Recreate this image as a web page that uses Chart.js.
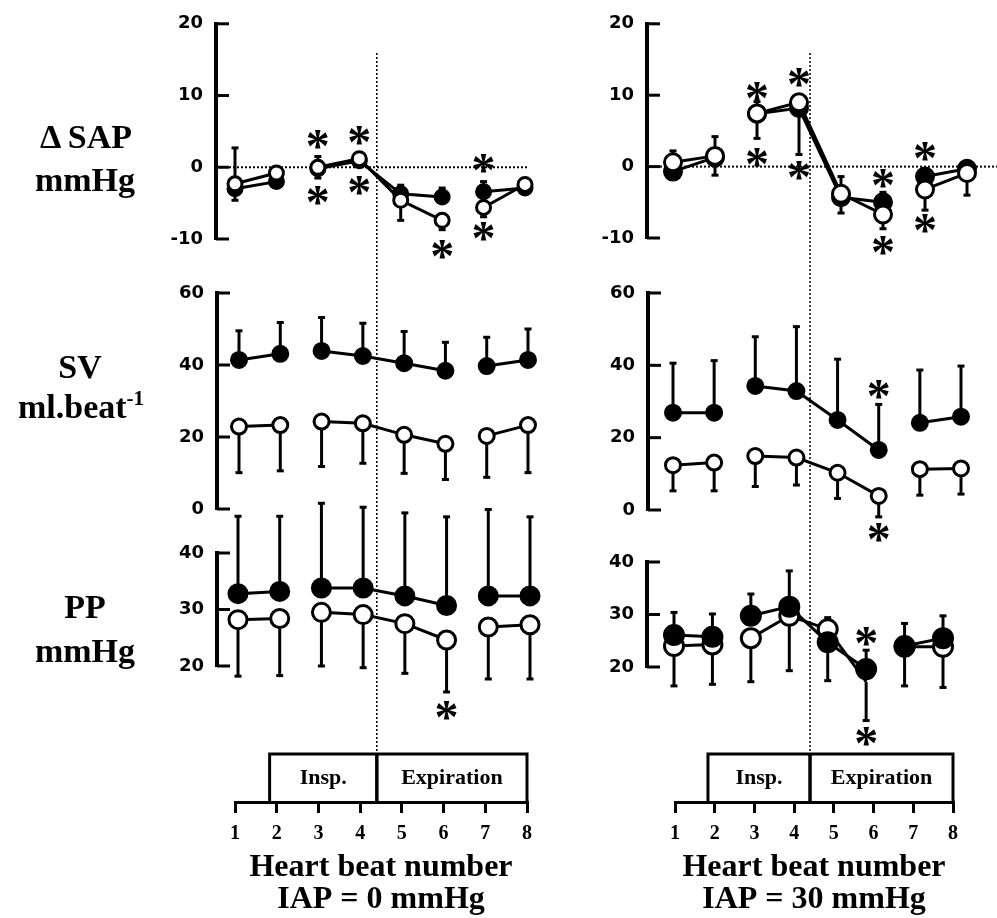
<!DOCTYPE html>
<html>
<head>
<meta charset="utf-8">
<script src="https://cdn.jsdelivr.net/npm/chart.js@4.4.1/dist/chart.umd.min.js"></script>
<style>
html,body{margin:0;padding:0;background:#fff;}
#wrap{position:relative;width:997px;height:918px;overflow:hidden;background:#fff;}
#wrap canvas{position:absolute;left:0;top:0;}
.lab{position:absolute;width:170px;text-align:center;font-family:"Liberation Serif","Times New Roman",serif;font-weight:bold;font-size:34px;line-height:43px;color:#000;white-space:nowrap;}
.lab sup{font-size:21px;line-height:0;vertical-align:13px;}
</style>
</head>
<body>
<div id="wrap">
<canvas id="pTL" width="997" height="918"></canvas>
<canvas id="pTR" width="997" height="918"></canvas>
<canvas id="pML" width="997" height="918"></canvas>
<canvas id="pMR" width="997" height="918"></canvas>
<canvas id="pBL" width="997" height="918"></canvas>
<canvas id="pBR" width="997" height="918"></canvas>
<canvas id="axL" width="997" height="918"></canvas>
<canvas id="axR" width="997" height="918"></canvas>
<div class="lab" style="left:1px;top:115px">Δ SAP</div>
<div class="lab" style="left:0px;top:158px">mmHg</div>
<div class="lab" style="left:-5px;top:345px">SV</div>
<div class="lab" style="left:-4px;top:385px">ml.beat<sup>-1</sup></div>
<div class="lab" style="left:0px;top:585px">PP</div>
<div class="lab" style="left:0px;top:629px">mmHg</div>
</div>
<script>
// ---------------- DATA ----------------
const beats = [1, 2, 3, 4, 5, 6, 7, 8];
const tickLabels = ['1', '2', '3', '4', '5', '6', '7', '8'];
const phaseBounds = [1.83, 4.4, 8];
const phaseNames = ['Insp.', 'Expiration'];
const lineBreaksAfter = [2, 6];
const xTitles0 = ['Heart beat number', 'IAP = 0 mmHg'];
const xTitles30 = ['Heart beat number', 'IAP = 30 mmHg'];

// Delta SAP (mmHg), IAP = 0
const sapFilled0   = [-3.0, -2.0, -0.2, 0.9, -3.7, -4.15, -3.4, -2.9];
const sapFilledSD0 = [5.7, 1.0, 1.7, 0.8, 1.2, 1.25, 1.4, 0.8];
const sapOpen0     = [-2.3, -0.8, 0.0, 1.2, -4.6, -7.4, -5.6, -2.4];
const sapOpenSD0   = [2.3, 1.0, 1.5, 0.8, 2.8, 1.3, 1.3, 0.8];
const sapStars0    = [[3, 3.7], [3, -4.1], [4, 4.3], [4, -2.7], [6, -11.6], [7, 0.4], [7, -9.1]];

// Delta SAP (mmHg), IAP = 30
const sapFilled30   = [-0.7, 1.3, 7.4, 8.2, -4.3, -5.0, -1.4, -0.3];
const sapFilledSD30 = [2.9, 2.9, 1.7, 1.5, 2.9, 1.4, 1.1, 0.8];
const sapOpen30     = [0.6, 1.5, 7.45, 9.0, -3.8, -6.7, -3.2, -0.9];
const sapOpenSD30   = [1.0, 2.7, 3.5, 7.3, 2.7, 2.0, 2.9, 3.1];
const sapStars30    = [[3, 10.4], [3, 1.1], [4, 12.4], [4, -0.7], [6, -1.8], [6, -11.2], [7, 2.0], [7, -8.1]];

// SV (ml/beat), IAP = 0
const svFilled0   = [41.4, 43.1, 43.9, 42.5, 40.5, 38.4, 39.7, 41.4];
const svFilledSD0 = [8.1, 8.7, 9.3, 9.1, 8.8, 7.9, 8.0, 8.6];
const svOpen0     = [22.9, 23.3, 24.3, 23.8, 20.6, 18.1, 20.3, 23.3];
const svOpenSD0   = [12.8, 12.7, 12.5, 11.1, 10.7, 9.9, 11.5, 13.2];
const svStars0    = [];

// SV (ml/beat), IAP = 30
const svFilled30   = [26.9, 26.9, 34.3, 32.9, 24.9, 16.6, 24.1, 25.8];
const svFilledSD30 = [13.7, 14.4, 13.6, 17.8, 16.8, 12.6, 14.6, 14.0];
const svOpen30     = [12.4, 13.1, 14.9, 14.5, 10.3, 3.9, 11.3, 11.5];
const svOpenSD30   = [7.1, 7.8, 8.4, 7.6, 7.1, 5.8, 7.2, 7.1];
const svStars30    = [[6, 33.2], [6, -6.4]];

// PP (mmHg), IAP = 0
const ppFilled0   = [32.8, 33.2, 33.8, 33.8, 32.4, 30.7, 32.4, 32.4];
const ppFilledSD0 = [13.7, 13.3, 15.0, 14.3, 14.7, 15.7, 15.3, 14.0];
const ppOpen0     = [28.2, 28.4, 29.5, 29.1, 27.5, 24.6, 26.9, 27.3];
const ppOpenSD0   = [10.0, 10.1, 9.5, 9.4, 8.8, 9.2, 9.2, 9.6];
const ppStars0    = [[6, 12.0]];

// PP (mmHg), IAP = 30
const ppFilled30   = [26.1, 25.75, 29.75, 31.5, 24.7, 19.6, 24.0, 25.5];
const ppFilledSD30 = [4.3, 4.35, 4.15, 6.8, 4.7, 3.6, 4.3, 4.25];
const ppOpen30     = [24.0, 24.3, 25.5, 29.75, 27.2, 17.2, 23.85, 23.85];
const ppOpenSD30   = [7.6, 7.6, 8.3, 10.45, 9.8, 7.4, 7.45, 7.75];
const ppStars30    = [[6, 25.6], [6, 6.6]];

// ---------------- RENDERING ----------------
const W = 997, H = 918;
const Y_AXIS_W = 60;
const SERIF = '"Liberation Serif", "Times New Roman", serif';
const SANS = '"DejaVu Sans", sans-serif';
const TICK_IN = 13;
const STAR_SIZE = 48;

function decoPlugin(key, stars, zeroLine) {
  return {
    id: 'deco' + key,
    beforeDatasetsDraw(chart) {
      const ctx = chart.ctx, xs = chart.scales.x, ys = chart.scales.y;
      ctx.save();
      ctx.strokeStyle = '#000';
      if (zeroLine) {
        const y0 = ys.getPixelForValue(0);
        ctx.setLineDash([2, 2]);
        ctx.lineWidth = 2;
        ctx.beginPath();
        ctx.moveTo(ys.right + TICK_IN, y0);
        ctx.lineTo(chart.chartArea.right, y0);
        ctx.stroke();
        ctx.setLineDash([]);
      }
      ctx.lineWidth = 3;
      ys.ticks.forEach(t => {
        const y = ys.getPixelForValue(t.value);
        ctx.beginPath();
        ctx.moveTo(ys.right, y);
        ctx.lineTo(ys.right + TICK_IN, y);
        ctx.stroke();
      });
      chart.data.datasets.forEach(ds => {
        ds.errors.forEach((e, j) => {
          const v = ds.data[j].y;
          const x = xs.getPixelForValue(ds.data[j].x);
          const y1 = ys.getPixelForValue(v);
          const y2 = ys.getPixelForValue(v + ds.errDir * e);
          ctx.lineWidth = 3;
          ctx.beginPath(); ctx.moveTo(x, y1); ctx.lineTo(x, y2); ctx.stroke();
          ctx.beginPath(); ctx.moveTo(x - 3.5, y2); ctx.lineTo(x + 3.5, y2); ctx.stroke();
        });
      });
      ctx.restore();
    },
    afterDatasetsDraw(chart) {
      const ctx = chart.ctx, xs = chart.scales.x, ys = chart.scales.y;
      ctx.save();
      ctx.fillStyle = '#000';
      ctx.font = 'bold ' + STAR_SIZE + 'px ' + SERIF;
      ctx.textAlign = 'center';
      ctx.textBaseline = 'alphabetic';
      stars.forEach(([b, v]) => {
        ctx.fillText('*', xs.getPixelForValue(b), ys.getPixelForValue(v) + STAR_SIZE * 0.45);
      });
      ctx.restore();
    }
  };
}

function makePanel(id, geo, yCfg, filled, filledSD, open, openSD, stars, openOnTop, zeroLine) {
  const unit = (geo.px8 - geo.px1) / 7;
  const xMin = 1 - (geo.px1 - geo.axisX) / unit;
  const xMax = 8 + (geo.right - geo.px8) / unit;
  const toPts = arr => beats.map((b, i) => ({x: b, y: arr[i]}));
  const mk = (label, vals, sd, dir, fill) => ({
    label: label,
    data: toPts(vals),
    errors: sd,
    errDir: dir,
    borderColor: '#000',
    borderWidth: 3,
    pointRadius: geo.r,
    pointHoverRadius: geo.r,
    pointBorderWidth: 3,
    pointBackgroundColor: fill,
    pointBorderColor: '#000',
    clip: false,
    tension: 0,
    fill: false,
    segment: {
      borderColor: c => lineBreaksAfter.includes(c.p0.parsed.x) ? 'rgba(0,0,0,0)' : '#000'
    }
  });
  const dF = mk('filled', filled, filledSD, 1, '#000');
  const dO = mk('open', open, openSD, -1, '#fff');
  new Chart(document.getElementById(id), {
    type: 'line',
    data: {datasets: openOnTop ? [dO, dF] : [dF, dO]},
    options: {
      responsive: false,
      animation: false,
      devicePixelRatio: 1,
      events: [],
      layout: {
        autoPadding: false,
        padding: {left: geo.axisX - Y_AXIS_W, right: W - geo.right, top: geo.top, bottom: H - geo.bottom}
      },
      plugins: {legend: {display: false}, tooltip: {enabled: false}, title: {display: false}},
      scales: {
        x: {type: 'linear', display: false, min: xMin, max: xMax},
        y: {
          type: 'linear',
          position: 'left',
          min: yCfg.min,
          max: yCfg.max,
          afterFit: s => { s.width = Y_AXIS_W; },
          ticks: {stepSize: yCfg.step, color: '#000', padding: 13,
                  font: {family: SANS, weight: 'bold', size: 18}},
          grid: {display: false, drawTicks: false},
          border: {display: true, color: '#000', width: 4}
        }
      }
    },
    plugins: [decoPlugin(id, stars, zeroLine)]
  });
}

function axisPlugin(key) {
  return {
    id: 'axis' + key,
    afterDraw(chart) {
      const ctx = chart.ctx, xs = chart.scales.x;
      const base = chart.chartArea.bottom;
      const boxTop = base - 48;
      const xa = xs.getPixelForValue(phaseBounds[0]);
      const xb = xs.getPixelForValue(phaseBounds[1]);
      const xc = xs.getPixelForValue(phaseBounds[2]);
      ctx.save();
      ctx.strokeStyle = '#000';
      ctx.lineWidth = 3;
      ctx.beginPath();
      ctx.moveTo(xa, base); ctx.lineTo(xa, boxTop); ctx.lineTo(xc, boxTop); ctx.lineTo(xc, base);
      ctx.stroke();
      ctx.lineWidth = 3.5;
      ctx.beginPath(); ctx.moveTo(xb, boxTop); ctx.lineTo(xb, base); ctx.stroke();
      // dotted phase divider through panels
      ctx.lineWidth = 1.5;
      ctx.setLineDash([2, 2]);
      ctx.beginPath(); ctx.moveTo(xb, 53); ctx.lineTo(xb, boxTop); ctx.stroke();
      ctx.setLineDash([]);
      ctx.fillStyle = '#000';
      ctx.font = 'bold 22px ' + SERIF;
      ctx.textAlign = 'center';
      ctx.textBaseline = 'middle';
      ctx.fillText(phaseNames[0], (xa + xb) / 2, (boxTop + base) / 2);
      ctx.fillText(phaseNames[1], (xb + xc) / 2, (boxTop + base) / 2);
      ctx.restore();
    }
  };
}

function makeAxis(id, left, right, titles) {
  new Chart(document.getElementById(id), {
    type: 'line',
    data: {datasets: []},
    options: {
      responsive: false,
      animation: false,
      devicePixelRatio: 1,
      events: [],
      layout: {autoPadding: false, padding: {left: left, right: W - right, top: 700, bottom: 0}},
      plugins: {legend: {display: false}, tooltip: {enabled: false}},
      scales: {
        x: {
          type: 'linear', position: 'bottom', min: 1, max: 8,
          afterFit: s => { s.height = 116; },
          ticks: {stepSize: 1, autoSkip: false, maxRotation: 0, color: '#000', padding: 9,
                  font: {family: SERIF, weight: 'bold', size: 20},
                  callback: v => tickLabels[beats.indexOf(v)] ?? ''},
          grid: {drawOnChartArea: false, drawTicks: true, tickLength: 11, lineWidth: 3, color: '#000'},
          border: {display: true, color: '#000', width: 3},
          title: {display: true, text: titles, color: '#000', align: 'center',
                  font: {family: SERIF, weight: 'bold', size: 32, lineHeight: 1},
                  padding: {top: 0, bottom: 2}}
        },
        y: {display: false, min: 0, max: 1}
      }
    },
    plugins: [axisPlugin(id)]
  });
}

makePanel('pTL', {axisX: 216, px1: 235, px8: 525, right: 528, top: 15, bottom: 239, r: 7},
  {min: -10, max: 20, step: 10}, sapFilled0, sapFilledSD0, sapOpen0, sapOpenSD0, sapStars0, true, true);
makePanel('pTR', {axisX: 647, px1: 673, px8: 967, right: 997, top: 14, bottom: 238, r: 8.5},
  {min: -10, max: 20, step: 10}, sapFilled30, sapFilledSD30, sapOpen30, sapOpenSD30, sapStars30, true, true);
makePanel('pML', {axisX: 217, px1: 239, px8: 528, right: 545, top: 293, bottom: 509, r: 7.5},
  {min: 0, max: 60, step: 20}, svFilled0, svFilledSD0, svOpen0, svOpenSD0, svStars0, false, false);
makePanel('pMR', {axisX: 648, px1: 673, px8: 961, right: 997, top: 293, bottom: 510, r: 7.5},
  {min: 0, max: 60, step: 20}, svFilled30, svFilledSD30, svOpen30, svOpenSD30, svStars30, false, false);
makePanel('pBL', {axisX: 217, px1: 238, px8: 530, right: 545, top: 553, bottom: 666, r: 9},
  {min: 20, max: 40, step: 10}, ppFilled0, ppFilledSD0, ppOpen0, ppOpenSD0, ppStars0, false, false);
makePanel('pBR', {axisX: 647, px1: 674, px8: 943, right: 997, top: 562, bottom: 667, r: 9.5},
  {min: 20, max: 40, step: 10}, ppFilled30, ppFilledSD30, ppOpen30, ppOpenSD30, ppStars30, false, false);

makeAxis('axL', 235, 527, xTitles0);
makeAxis('axR', 675, 953, xTitles30);
</script>
</body>
</html>
